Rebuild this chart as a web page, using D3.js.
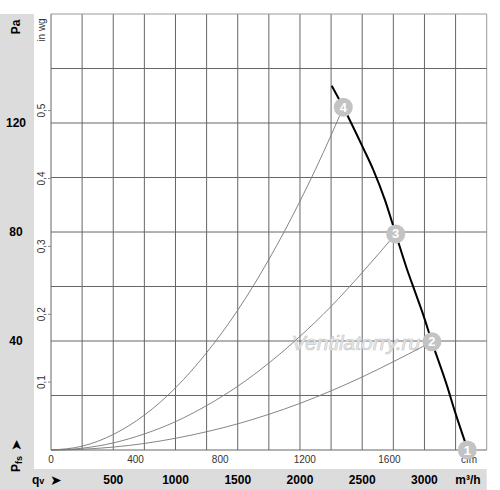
<!DOCTYPE html>
<html>
<head>
<meta charset="utf-8">
<script src="https://cdn.jsdelivr.net/npm/d3@7"></script>
<style>
  body { margin: 0; background: #fff; }
  text { font-family: "Liberation Sans", Arial, sans-serif; }
</style>
</head>
<body>
<div id="chart"></div>
<script>
// fan curve, q in m3/h, p in Pa
var fanQ = [2255, 2348, 2509, 2589, 2683, 2769, 2857, 2924, 2991, 3060, 3179, 3245, 3326];
var fanP = [133.7, 125.8, 110.7, 102.8, 91.7, 79.3, 66.7, 58.1, 49.5, 39.7, 23.9, 14.1, 3.0];

// system curves (thin)
var sys4Q = [0, 250, 500, 750, 1000, 1250, 1500, 1750, 2000, 2250, 2348];
var sys4P = [0, 1.4, 5.7, 12.8, 22.8, 35.7, 51.3, 69.9, 91.3, 115.5, 125.8];
var sys3Q = [0, 250, 500, 750, 1000, 1250, 1500, 1750, 2000, 2250, 2500, 2769];
var sys3P = [0, 0.65, 2.6, 5.9, 10.4, 16.3, 23.4, 31.9, 41.7, 52.7, 65.1, 79.3];
var sys2Q = [0, 250, 500, 750, 1000, 1250, 1500, 1750, 2000, 2250, 2500, 2750, 3060];
var sys2P = [0, 0.27, 1.07, 2.4, 4.3, 6.7, 9.6, 13.1, 17.1, 21.7, 26.8, 32.4, 39.7];

// operating points
var pointNames = ["1", "2", "3", "4"];
var pointQ = [3344, 3060, 2769, 2348];
var pointP = [0, 39.7, 79.3, 125.8];

// ticks
var mhTicks = [500, 1000, 1500, 2000, 2500, 3000];
var cfmTicks = [0, 400, 800, 1200, 1600];
var paTicks = [40, 80, 120];
var inwgTicks = [0.1, 0.2, 0.3, 0.4, 0.5];

var W = 500, H = 490;
var plotL = 51, plotR = 486.7, plotT = 14, plotB = 450;

var svg = d3.select('#chart').append('svg')
  .attr('width', W)
  .attr('height', H);

var x = d3.scaleLinear().domain([0, 3500]).range([plotL, plotR]);
var xCfm = d3.scaleLinear().domain([0, 3500 / 1.699]).range([plotL, plotR]);
var y = d3.scaleLinear().domain([0, 160]).range([plotB, plotT]);
var yIn = d3.scaleLinear().domain([0, 160 / 249.09]).range([plotB, plotT]);

// gray panels
svg.append('rect').attr('x', 0).attr('y', plotT).attr('width', 34).attr('height', H - plotT).attr('fill', '#dcdcdc');
svg.append('rect').attr('x', 0).attr('y', 469).attr('width', plotR).attr('height', H - 469).attr('fill', '#dcdcdc');

// grid
svg.append('g').selectAll('line').data(d3.range(0, 3501, 250))
  .enter().append('line')
  .attr('x1', function (d) { return x(d); })
  .attr('x2', function (d) { return x(d); })
  .attr('y1', plotT).attr('y2', plotB)
  .attr('stroke', function (d) { return d == 3500 ? '#999' : '#666'; })
  .attr('stroke-width', 1);

svg.append('g').selectAll('line').data(d3.range(0, 161, 20))
  .enter().append('line')
  .attr('x1', plotL).attr('x2', plotR)
  .attr('y1', function (d) { return y(d); })
  .attr('y2', function (d) { return y(d); })
  .attr('stroke', function (d) { return d == 160 ? '#999' : '#666'; })
  .attr('stroke-width', 1);

// in wg ticks
var inG = svg.append('g');
inG.selectAll('line').data(inwgTicks).enter().append('line')
  .attr('x1', plotL - 3).attr('x2', plotL)
  .attr('y1', function (d) { return yIn(d); })
  .attr('y2', function (d) { return yIn(d); })
  .attr('stroke', '#888');
inG.selectAll('text').data(inwgTicks).enter().append('text')
  .attr('transform', function (d) { return 'translate(45,' + yIn(d) + ') rotate(-90)'; })
  .attr('text-anchor', 'middle')
  .attr('font-size', 10)
  .attr('fill', '#333')
  .text(function (d) { return d3.format('.1f')(d).replace('.', ','); });
svg.append('text')
  .attr('transform', 'translate(45,30) rotate(-90)')
  .attr('text-anchor', 'middle')
  .attr('font-size', 10)
  .attr('fill', '#333')
  .text('in wg');

// Pa labels
svg.append('text')
  .attr('transform', 'translate(19.5,27) rotate(-90)')
  .attr('text-anchor', 'middle')
  .attr('font-size', 12).attr('font-weight', 'bold')
  .text('Pa');
svg.append('g').selectAll('text').data(paTicks).enter().append('text')
  .attr('x', 16).attr('y', function (d) { return y(d) + 4; })
  .attr('text-anchor', 'middle')
  .attr('font-size', 12).attr('font-weight', 'bold')
  .text(function (d) { return d; });

// Pfs arrow label
var pfs = svg.append('text')
  .attr('transform', 'translate(19.5,472) rotate(-90)')
  .attr('font-size', 12).attr('font-weight', 'bold');
pfs.append('tspan').text('P');
pfs.append('tspan').attr('font-size', 9).attr('dy', 2).text('fs');
svg.append('text')
  .attr('transform', 'translate(20.5,451) rotate(-90)')
  .attr('font-family', 'DejaVu Sans').attr('font-size', 14)
  .text('\u27A4');

// cfm labels
svg.append('g').selectAll('text').data(cfmTicks).enter().append('text')
  .attr('x', function (d) { return xCfm(d); })
  .attr('y', 463)
  .attr('text-anchor', 'middle')
  .attr('font-size', 10).attr('fill', '#333')
  .text(function (d) { return d; });
svg.append('text')
  .attr('x', 469).attr('y', 463)
  .attr('text-anchor', 'middle')
  .attr('font-size', 10).attr('fill', '#333')
  .text('cfm');

// m3/h labels
svg.append('g').selectAll('text').data(mhTicks).enter().append('text')
  .attr('x', function (d) { return x(d); })
  .attr('y', 484)
  .attr('text-anchor', 'middle')
  .attr('font-size', 12).attr('font-weight', 'bold')
  .text(function (d) { return d; });
svg.append('text')
  .attr('x', 468).attr('y', 484)
  .attr('text-anchor', 'middle')
  .attr('font-size', 12).attr('font-weight', 'bold')
  .text('m\u00B3/h');
var qv = svg.append('text')
  .attr('x', 32).attr('y', 484)
  .attr('font-size', 12).attr('font-weight', 'bold');
qv.append('tspan').text('q');
qv.append('tspan').attr('font-size', 9).text('v');
svg.append('text')
  .attr('x', 50).attr('y', 485)
  .attr('font-family', 'DejaVu Sans').attr('font-size', 14)
  .text('\u27A4');

// watermark
svg.append('text')
  .attr('x', 356).attr('y', 350)
  .attr('text-anchor', 'middle')
  .attr('font-size', 21).attr('font-style', 'italic')
  .attr('fill', '#ededed').attr('stroke', '#c9c9c9').attr('stroke-width', 0.7)
  .text('Ventilatorry.ru');

// curves
var line = d3.line()
  .x(function (d) { return x(d[0]); })
  .y(function (d) { return y(d[1]); })
  .curve(d3.curveMonotoneX);

var sysCurves = [d3.zip(sys4Q, sys4P), d3.zip(sys3Q, sys3P), d3.zip(sys2Q, sys2P)];
svg.append('g').selectAll('path').data(sysCurves)
  .enter().append('path')
  .attr('d', line)
  .attr('fill', 'none')
  .attr('stroke', '#777')
  .attr('stroke-width', 0.9);

svg.append('path')
  .datum(d3.zip(fanQ, fanP))
  .attr('d', line)
  .attr('fill', 'none')
  .attr('stroke', '#000')
  .attr('stroke-width', 2);

// markers
var pts = d3.zip(pointNames, pointQ, pointP);
var mk = svg.append('g').selectAll('g').data(pts)
  .enter().append('g')
  .attr('transform', function (d) { return 'translate(' + x(d[1]) + ',' + y(d[2]) + ')'; });
mk.append('circle').attr('r', 9.5).attr('fill', '#c3c3c3');
mk.append('text')
  .attr('text-anchor', 'middle').attr('y', 4.5)
  .attr('font-size', 13).attr('font-weight', 'bold')
  .attr('fill', '#fff')
  .text(function (d) { return d[0]; });
</script>
</body>
</html>
